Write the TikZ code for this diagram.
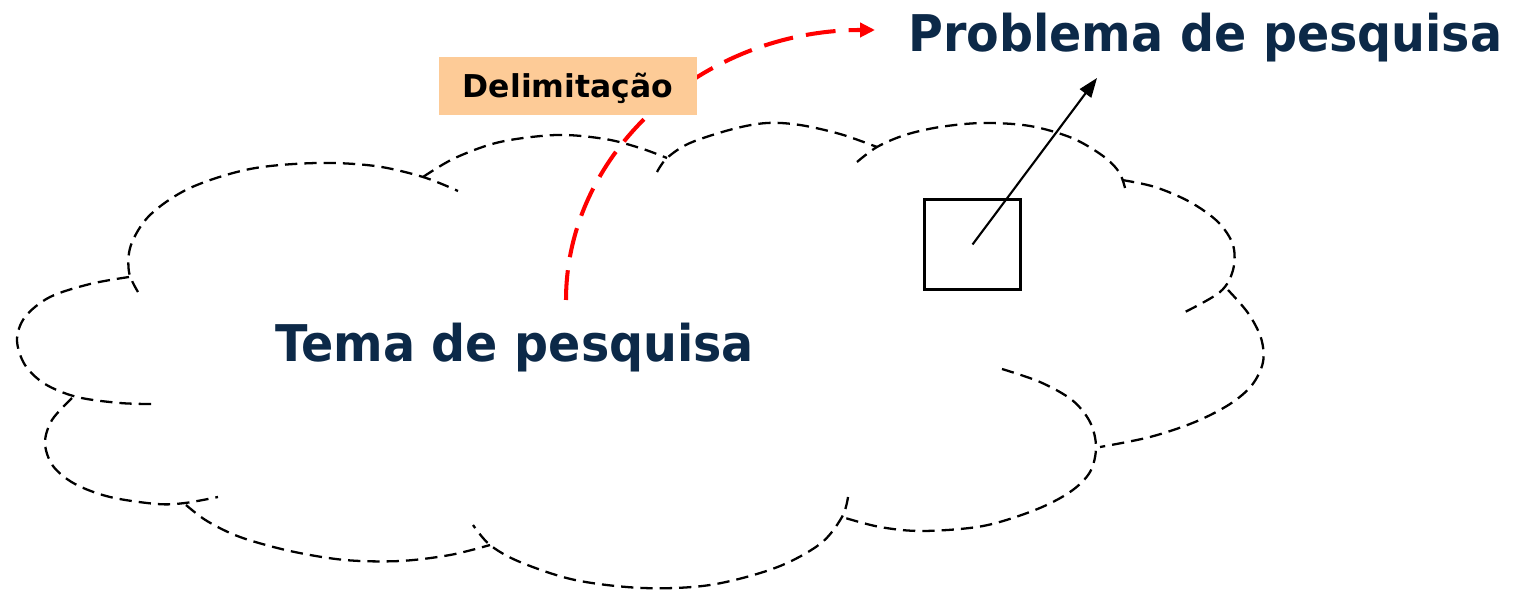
\documentclass[tikz,border=0pt]{standalone}
\usepackage{fontspec}
\setmainfont{DejaVu Sans}
\newfontfamily\verdbold[FakeStretch=0.94]{DejaVu Sans Bold}
\usetikzlibrary{arrows.meta}
\definecolor{navy}{RGB}{12,41,72}
\definecolor{peach}{RGB}{253,203,151}
\definecolor{redarc}{RGB}{255,0,0}
\begin{document}
\begin{tikzpicture}[x=0.02cm,y=-0.02cm,
  cloudline/.style={draw=black,line width=1.3pt,dash pattern=on 7pt off 4pt},
  bigtext/.style={text=navy,font=\verdbold\fontsize{28.8}{34}\selectfont,inner sep=0pt,anchor=base west},
  delimbox/.style={fill=peach,inner sep=0pt,minimum width=5.16cm,minimum height=1.16cm,
    font=\fontsize{17.9}{21}\selectfont\bfseries,text height=13pt,text depth=0pt},
  focusbox/.style={draw=black,line width=1.7pt,minimum width=1.92cm,minimum height=1.8cm,inner sep=0pt},
  blackarrow/.style={draw=black,line width=1.2pt,-{Triangle[length=11pt,width=8pt]}},
  redarrow/.style={draw=redarc,line width=2.3pt,dash pattern=on 17pt off 7.5pt,-{Triangle[length=8.5pt,width=8pt]}}]
\useasboundingbox (0,0) rectangle (1513,590);
% cloud lobes
\draw[cloudline] plot[smooth,tension=0.55] coordinates {(138,292) (129,272) (131,245) (150,215) (190,188) (250,169) (317,163) (375,166) (423,177) (458,191)};
\draw[cloudline] plot[smooth,tension=0.55] coordinates {(423,177) (455,158) (500,142) (557,135) (605,139) (640,148) (667,158)};
\draw[cloudline] plot[smooth,tension=0.55] coordinates {(657,172) (667,158) (690,143) (733,129) (767,123) (800,125) (840,134) (877,147)};
\draw[cloudline] plot[smooth,tension=0.55] coordinates {(857,162) (877,147) (905,135) (940,127) (983,123) (1030,126) (1072,138) (1103,156) (1119,172) (1125,188)};
\draw[cloudline] plot[smooth,tension=0.55] coordinates {(1122,180) (1155,187) (1190,202) (1218,222) (1233,245) (1233,270) (1220,292) (1183,313)};
\draw[cloudline] plot[smooth,tension=0.55] coordinates {(1228,290) (1248,313) (1261,338) (1263,362) (1252,385) (1230,404) (1195,422) (1150,437) (1100,447)};
\draw[cloudline] plot[smooth,tension=0.55] coordinates {(1002,369) (1040,382) (1072,400) (1090,422) (1096,447) (1090,472) (1070,492) (1035,510) (983,526) (923,531) (880,527) (842,517)};
\draw[cloudline] plot[smooth,tension=0.55] coordinates {(848,497) (842,517) (820,544) (775,568) (710,585) (643,588) (575,580) (520,562) (490,545) (473,525)};
\draw[cloudline] plot[smooth,tension=0.55] coordinates {(186,505) (207,521) (240,537) (290,551) (345,560) (400,561) (450,555) (490,545)};
\draw[cloudline] plot[smooth,tension=0.55] coordinates {(72,398) (52,420) (45,443) (53,466) (75,484) (110,497) (157,504) (185,503) (218,497)};
\draw[cloudline] plot[smooth,tension=0.55] coordinates {(129,277) (90,284) (50,297) (25,317) (17,340) (25,365) (45,384) (77,397) (120,403) (153,404)};
% texts
\node[bigtext] (prob) at (908,52) {Problema de pesquisa};
\node[bigtext] (tema) at (275,362) {Tema de pesquisa};
% red arc
\coordinate (rs) at (566,300);
\coordinate (re) at (875,30);
\draw[redarrow] (rs) .. controls (566,151) and (704,30) .. (re);
\node[delimbox] (delim) at (568,86) {Delimitação};
% square and arrow
\node[focusbox] (sq) at (972.5,244.5) {};
\coordinate (ptip) at (1097,78);
\draw[blackarrow] (sq.center) -- (ptip);
\end{tikzpicture}
\end{document}
